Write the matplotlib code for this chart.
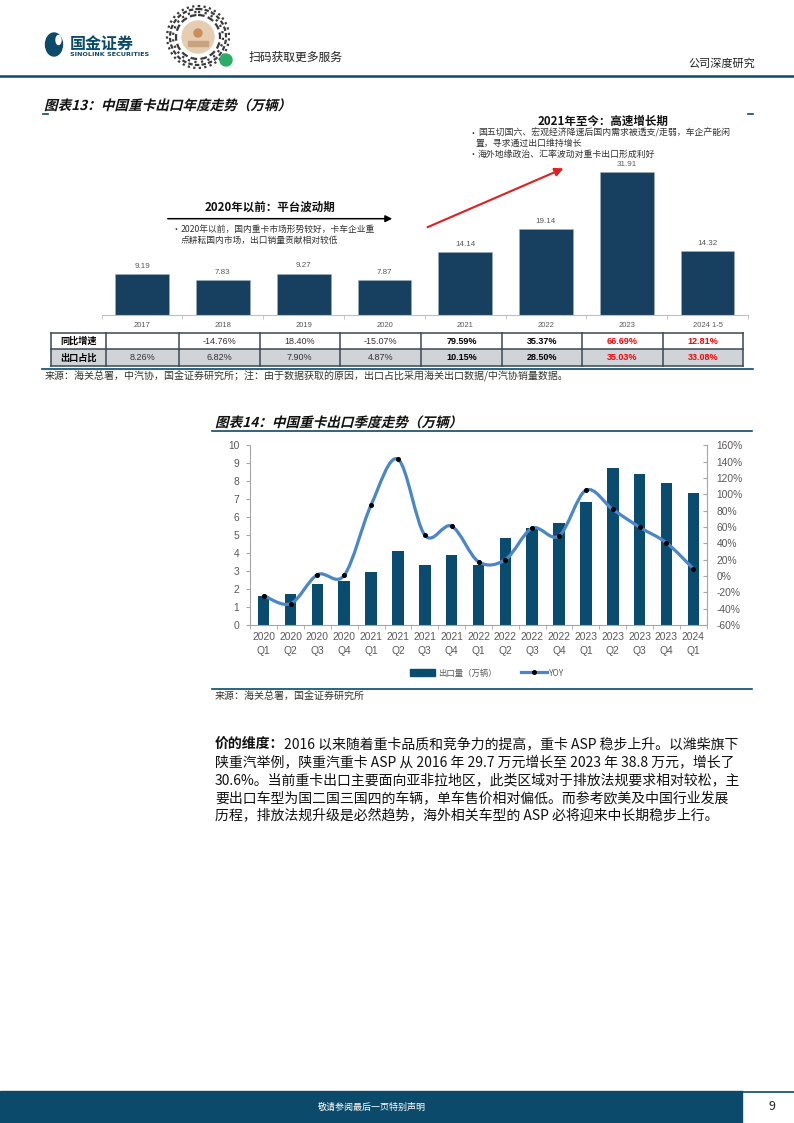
import matplotlib
matplotlib.use('Agg')
import matplotlib.pyplot as plt
import numpy as np
from matplotlib.patches import Rectangle, Circle, Ellipse, PathPatch, FancyArrowPatch
from matplotlib.path import Path
from matplotlib.lines import Line2D
from matplotlib.textpath import TextPath
from matplotlib.font_manager import FontProperties
from matplotlib.transforms import Affine2D

plt.rcParams['font.family'] = ['Noto Sans CJK SC', 'DejaVu Sans']

# ---- data: chart 13 (annual) ----
years = ['2017', '2018', '2019', '2020', '2021', '2022', '2023', '2024 1-5']
annual_exports = [9.19, 7.83, 9.27, 7.87, 14.14, 19.14, 31.91, 14.32]
annual_yoy = ['', '-14.76%', '18.40%', '-15.07%', '79.59%', '35.37%', '66.69%', '12.81%']
export_share = ['8.26%', '6.82%', '7.90%', '4.87%', '10.15%', '28.50%', '35.03%', '33.08%']
row_names = ['同比增速', '出口占比']

# ---- data: chart 14 (quarterly) ----
quarters = ['2020\nQ1', '2020\nQ2', '2020\nQ3', '2020\nQ4',
            '2021\nQ1', '2021\nQ2', '2021\nQ3', '2021\nQ4',
            '2022\nQ1', '2022\nQ2', '2022\nQ3', '2022\nQ4',
            '2023\nQ1', '2023\nQ2', '2023\nQ3', '2023\nQ4', '2024\nQ1']
quarterly_exports = [1.60, 1.72, 2.27, 2.44, 2.93, 4.10, 3.36, 3.87, 3.36,
                     4.82, 5.42, 5.70, 6.86, 8.75, 8.41, 7.92, 7.36]
quarterly_yoy = [-24, -34, 1.6, 1, 87, 143, 50, 61, 17.5,
                 20, 58.5, 49, 105, 81.6, 59.7, 40.6, 9]

NAVY = '#0b4a6a'
BAR13 = '#173f5f'
BAR14 = '#0a4c70'
LINE = '#4a86c8'
GRAY = '#595959'

W, H = 794, 1123


def box(l, t, r, b):
    return [l / W, 1 - b / H, (r - l) / W, (b - t) / H]


def smooth_path(xs, ys):
    pts = np.column_stack([xs, ys]).astype(float)
    n = len(pts)
    verts = [pts[0]]
    codes = [Path.MOVETO]
    for i in range(n - 1):
        p0 = pts[max(i - 1, 0)]
        p1 = pts[i]
        p2 = pts[i + 1]
        p3 = pts[min(i + 2, n - 1)]
        verts += [p1 + (p2 - p0) / 6, p2 - (p3 - p1) / 6, p2]
        codes += [Path.CURVE4] * 3
    return Path(verts, codes)


def italic_title(ax, x, baseline, text, size_px):
    # slanted bold title drawn as a path (CJK font has no italic face)
    fp = FontProperties(family='Noto Sans CJK SC', weight='bold')
    tp = TextPath((0, 0), text, size=size_px, prop=fp)
    tr = Affine2D().skew_deg(14, 0).scale(1, -1).translate(x, baseline) + ax.transData
    ax.add_patch(PathPatch(tp, transform=tr, fc='#111111', ec='none'))


fig = plt.figure(figsize=(W / 100, H / 100), dpi=100)
page = fig.add_axes([0, 0, 1, 1])
page.set_xlim(0, W)
page.set_ylim(H, 0)
page.axis('off')
page.set_zorder(5)
page.patch.set_visible(False)

# ---- header ----
page.add_patch(Ellipse((54, 44.5), 17, 23, color=NAVY))
page.add_patch(Ellipse((58.5, 40), 5, 9, color='white'))
page.text(70, 43.5, '国金证券', fontsize=11.5, fontweight='bold', color=NAVY, va='center')
page.text(70, 54, 'SINOLINK SECURITIES', fontsize=4.6, fontweight='bold', color=NAVY,
          va='center', family=['DejaVu Sans'])
for r, dash in [(31, (1, 1.5)), (28, (2, 1)), (25, (1, 2)), (22, (3, 1.5))]:
    page.add_patch(Circle((198, 37), r, fill=False, ec='#3a3a3a', lw=1.6, ls=(0, dash)))
page.add_patch(Circle((198, 37), 16, color='#e6cdb2'))
page.add_patch(Circle((198, 33), 4, color='#c98f5a'))
page.add_patch(Rectangle((188, 41), 20, 5, color='#c9a27e'))
page.add_patch(Circle((226, 60), 6, color='#2aae67'))
page.text(249, 57, '扫码获取更多服务', fontsize=8.5, color='#222222', va='center')
page.text(755, 63, '公司深度研究', fontsize=8, color='#222222', va='center', ha='right')
page.plot([0, W], [75.5, 75.5], color=NAVY, lw=1.8)

# ---- chart 13 ----
italic_title(page, 44, 110, '图表13：中国重卡出口年度走势（万辆）', 13.6)
page.plot([42.7, 48], [114, 114], color=NAVY, lw=1.2)
page.plot([748, 753], [114, 114], color=NAVY, lw=1.2)

ax13 = fig.add_axes(box(101.7, 160, 748, 315.3))
x13 = np.arange(len(years))
ax13.bar(x13, annual_exports, width=0.665, color=BAR13, edgecolor='#9fb0c0', linewidth=0.4)
for i, v in enumerate(annual_exports):
    ax13.annotate(f'{v:.2f}', (i, v), xytext=(0, 3), textcoords='offset points',
                  ha='center', va='bottom', fontsize=5.8, color=GRAY,
                  family=['Liberation Sans', 'Noto Sans CJK SC'])
ax13.set_xlim(-0.5, len(years) - 0.5)
ax13.set_ylim(0, 155.3 / 4.5)
for s in ['left', 'right', 'top']:
    ax13.spines[s].set_visible(False)
ax13.spines['bottom'].set_color('#bfbfbf')
ax13.spines['bottom'].set_linewidth(0.8)
ax13.set_yticks([])
ax13.set_xticks(x13)
ax13.set_xticklabels(years, fontsize=5.5, color=GRAY, family=['Liberation Sans', 'Noto Sans CJK SC'])
ax13.tick_params(axis='x', which='major', length=0, pad=5)
ax13.set_xticks(np.arange(-0.5, len(years)), minor=True)
ax13.tick_params(axis='x', which='minor', length=3, color='#bfbfbf', direction='out')
ax13.patch.set_visible(False)

# annotations
page.text(270, 207, '2020年以前：平台波动期', fontsize=8.3, fontweight='bold', ha='center',
          va='center', color='#111111')
page.add_patch(FancyArrowPatch((165, 218.7), (395, 218.7), arrowstyle='-|>,head_length=4,head_width=2',
                               color='black', lw=1.1))
page.text(171.7, 229.3, '•', fontsize=6.3, va='center', color='#333333')
page.text(180.7, 229.3, '2020年以前，国内重卡市场形势较好，卡车企业重', fontsize=6.3, va='center', color='#333333')
page.text(180.7, 240, '点耕耘国内市场，出口销量贡献相对较低', fontsize=6.3, va='center', color='#333333')

page.text(603, 121.7, '2021年至今：高速增长期', fontsize=8.3, fontweight='bold', ha='center',
          va='center', color='#111111')
page.text(469, 133.3, '•', fontsize=6.4, va='center', color='#333333')
page.text(478, 133.3, '国五切国六、宏观经济降速后国内需求被透支/走弱，车企产能闲', fontsize=6.4,
          va='center', color='#333333')
page.text(475, 143.5, '置，寻求通过出口维持增长', fontsize=6.4, va='center', color='#333333')
page.text(469, 154.3, '•', fontsize=6.4, va='center', color='#333333')
page.text(478, 154.3, '海外地缘政治、汇率波动对重卡出口形成利好', fontsize=6.4, va='center', color='#333333')
page.add_patch(FancyArrowPatch((425, 228.3), (566, 167.3), arrowstyle='-|>,head_length=5,head_width=2.5',
                               color='#e02020', lw=1.5))

# table
cols = [50.7, 106, 179, 259.5, 340, 421, 502, 582, 663, 743]
rows = [333.3, 349.3, 366.3]
page.add_patch(Rectangle((cols[0], rows[1]), cols[-1] - cols[0], rows[2] - rows[1],
                         fc='#d0d4d9', ec='none'))
for yv in rows:
    page.plot([cols[0], cols[-1]], [yv, yv], color='#3c4654', lw=1.1)
for xv in cols:
    page.plot([xv, xv], [rows[0], rows[2]], color='#3c4654', lw=1.1)
for r, name in enumerate(row_names):
    yc = (rows[r] + rows[r + 1]) / 2
    page.text((cols[0] + cols[1]) / 2, yc, name, fontsize=6.6, fontweight='bold',
              ha='center', va='center', color='black')
for r, vals in enumerate([annual_yoy, export_share]):
    yc = (rows[r] + rows[r + 1]) / 2
    for i, v in enumerate(vals):
        if i < 4:
            kw = dict(color='#333333', fontweight='normal')
        elif i < 6:
            kw = dict(color='black', fontweight='bold')
        else:
            kw = dict(color='#ff0000', fontweight='bold')
        page.text((cols[i + 1] + cols[i + 2]) / 2, yc, v, fontsize=6.5, ha='center', va='center',
                  family=['Liberation Sans', 'Noto Sans CJK SC'], **kw)

page.plot([42, 753], [369.3, 369.3], color=NAVY, lw=1.2)
page.text(45, 376, '来源：海关总署，中汽协，国金证券研究所；注：由于数据获取的原因，出口占比采用海关出口数据/中汽协销量数据。',
          fontsize=7.2, va='center', color='#333333')

# ---- chart 14 ----
italic_title(page, 215, 427, '图表14：中国重卡出口季度走势（万辆）', 13.6)
page.plot([212, 752], [431, 431], color=NAVY, lw=1.2)

ax14 = fig.add_axes(box(250.3, 445.3, 706.7, 625))
x14 = np.arange(len(quarters))
ax14.bar(x14, quarterly_exports, width=0.43, color=BAR14, zorder=2)
ax14.set_xlim(-0.5, len(quarters) - 0.5)
ax14.set_ylim(0, 10)
ax14.set_yticks(range(0, 11))
ax14.spines['top'].set_visible(False)
for s in ['left', 'bottom', 'right']:
    ax14.spines[s].set_color('#a6a6a6')
    ax14.spines[s].set_linewidth(0.8)
ax14.tick_params(axis='y', labelsize=7.4, labelcolor=GRAY, length=3, color='#a6a6a6',
                 direction='out', pad=5)
ax14.set_xticks(x14)
ax14.set_xticklabels(quarters, fontsize=7.4, color=GRAY, linespacing=1.5,
                     family=['Liberation Sans', 'Noto Sans CJK SC'])
ax14.tick_params(axis='x', which='major', length=0, pad=5)
ax14.set_xticks(np.arange(-0.5, len(quarters)), minor=True)
ax14.tick_params(axis='x', which='minor', length=3, color='#a6a6a6', direction='out')
for lab in ax14.get_yticklabels():
    lab.set_family(['Liberation Sans', 'Noto Sans CJK SC'])

ax2 = ax14.twinx()
ax2.set_ylim(-60, 160)
ax2.set_yticks(range(-60, 161, 20))
ax2.set_yticklabels([f'{v}%' for v in range(-60, 161, 20)], family=['Liberation Sans', 'Noto Sans CJK SC'])
ax2.tick_params(axis='y', labelsize=7.4, labelcolor=GRAY, length=3, color='#a6a6a6',
                direction='in', pad=7)
for s in ['left', 'bottom', 'right', 'top']:
    ax2.spines[s].set_visible(False)
ax2.add_patch(PathPatch(smooth_path(x14, quarterly_yoy), fc='none', ec=LINE, lw=2.3,
                        capstyle='round', zorder=3))
ax2.plot(x14, quarterly_yoy, 'o', color='black', ms=2.6, ls='none', zorder=4)

handles = [Rectangle((0, 0), 1, 1, color=BAR14),
           Line2D([], [], color=LINE, lw=2.3, marker='o', mfc='black', mec='black', ms=2.6)]
fig.legend(handles, ['出口量（万辆）', 'YOY'], loc='center', bbox_to_anchor=(487 / W, 1 - 673 / H),
           ncol=2, frameon=False, fontsize=6, handlelength=3.1, handleheight=0.8,
           handletextpad=0.3, columnspacing=2.9, labelcolor=GRAY)

page.plot([212, 752], [689, 689], color=NAVY, lw=1.2)
page.text(215, 697, '来源：海关总署，国金证券研究所', fontsize=7.2, va='center', color='#333333')

# ---- body text ----
body_lines = [
    '2016 以来随着重卡品质和竞争力的提高，重卡 ASP 稳步上升。以潍柴旗下',
    '陕重汽举例，陕重汽重卡 ASP 从 2016 年 29.7 万元增长至 2023 年 38.8 万元，增长了',
    '30.6%。当前重卡出口主要面向亚非拉地区，此类区域对于排放法规要求相对较松，主',
    '要出口车型为国二国三国四的车辆，单车售价相对偏低。而参考欧美及中国行业发展',
    '历程，排放法规升级是必然趋势，海外相关车型的 ASP 必将迎来中长期稳步上行。',
]
line_y = [744, 762, 780, 798, 816]
page.text(215, line_y[0], '价的维度：', fontsize=10, fontweight='bold', va='center', color='#111111')
page.text(215 + 69.4, line_y[0], body_lines[0], fontsize=10, va='center', color='#111111')
for t, yv in zip(body_lines[1:], line_y[1:]):
    page.text(215, yv, t, fontsize=10, va='center', color='#111111')

# ---- footer ----
page.add_patch(Rectangle((0, 1091), 742, 32, color=NAVY))
page.plot([742, W], [1091.5, 1091.5], color=NAVY, lw=1.2)
page.text(372, 1107, '敬请参阅最后一页特别声明', fontsize=6.5, color='white', ha='center', va='center')
page.text(772, 1107, '9', fontsize=9, color='#222222', ha='center', va='center')

fig.savefig('out.png', dpi=100)
